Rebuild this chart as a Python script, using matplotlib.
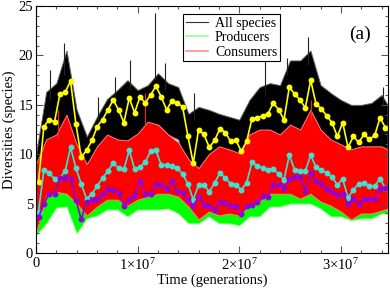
import numpy as np
import matplotlib
matplotlib.use("Agg")
import matplotlib.pyplot as plt
from matplotlib.lines import Line2D
from matplotlib.ticker import MultipleLocator, FuncFormatter

plt.rcParams["font.family"] = ["Liberation Serif", "DejaVu Serif"]
plt.rcParams["mathtext.fontset"] = "custom"
plt.rcParams["mathtext.rm"] = "Liberation Serif"
plt.rcParams["mathtext.it"] = "Liberation Serif:italic"

# sampling times (generations)
mark_t = 2.5e5 + np.arange(66) * 5.25e5
env_t = np.append(np.arange(35) * 1e6, 3.46e7)

# window averages
mean_all = [7.2, 12.8, 13.5, 13.3, 16.1, 16.3, 17.4, 13.1, 9.7, 10.4,
            11.4, 12.8, 13.5, 14.5, 15.5, 14.5, 13.2, 15.7, 14.2, 15.8,
            15.2, 16.0, 16.9, 15.8, 14.5, 15.4, 15.2, 14.8, 11.8, 9.1,
            12.5, 12.0, 10.7, 11.4, 12.6, 12.2, 11.3, 11.4, 10.3, 11.3,
            13.6, 13.7, 13.9, 14.1, 15.2, 14.5, 13.5, 16.8, 16.1, 15.5,
            14.7, 17.5, 15.1, 14.6, 13.9, 13.2, 11.8, 13.2, 10.7, 11.8,
            11.2, 12.0, 11.5, 11.9, 13.7, 12.7]
mean_cons = [4.2, 8.4, 8.1, 7.5, 7.6, 8.3, 10.7, 8.6, 7.0, 5.5,
             6.0, 6.8, 7.6, 8.3, 9.1, 8.6, 8.5, 10.4, 8.5, 8.7,
             9.2, 10.3, 10.4, 8.9, 8.9, 8.8, 8.6, 8.0, 7.0, 5.4,
             6.9, 6.9, 6.2, 7.1, 8.1, 7.6, 7.0, 6.9, 6.4, 7.1,
             9.2, 8.8, 8.6, 8.4, 8.5, 8.0, 7.4, 9.9, 8.4, 8.3,
             8.3, 9.9, 8.7, 8.4, 8.1, 7.7, 6.9, 7.5, 5.6, 6.4,
             7.0, 7.1, 6.8, 6.8, 7.5, 6.6]
mean_prod = [3.6, 5.0, 6.0, 6.0, 7.6, 7.6, 7.5, 5.4, 3.4, 5.2,
             5.4, 5.5, 6.0, 6.5, 6.4, 6.1, 4.8, 5.5, 5.9, 7.3,
             6.0, 6.0, 7.0, 6.9, 6.5, 7.3, 6.3, 6.1, 5.4, 4.8,
             5.7, 4.9, 4.8, 4.4, 5.2, 5.1, 4.8, 4.8, 3.9, 4.8,
             4.9, 5.2, 5.8, 5.7, 6.9, 6.9, 6.6, 7.5, 7.7, 7.7,
             6.3, 8.1, 7.3, 7.0, 6.5, 6.2, 5.9, 6.0, 5.0, 5.5,
             5.0, 5.5, 5.5, 5.5, 6.5, 6.6]

# ranges of the raw (noisy) series
all_lo = [2.0, 9.5, 11.0, 13.0, 9.0, 7.5, 9.0, 11.0, 11.5, 11.0,
          12.0, 12.5, 13.0, 12.0, 11.5, 7.0, 8.5, 7.5, 9.0, 8.0,
          7.5, 10.0, 10.5, 11.5, 10.5, 13.0, 12.0, 13.5, 11.0, 10.0,
          9.5, 8.0, 8.5, 8.5, 9.5, 9.5]
all_hi = [10.0, 16.3, 17.2, 20.5, 14.5, 11.8, 13.8, 15.6, 16.5, 17.5,
          16.5, 17.0, 18.2, 17.2, 16.8, 14.1, 14.8, 14.5, 14.1, 13.8,
          13.5, 15.5, 16.8, 17.2, 17.0, 19.5, 19.5, 20.5, 17.0, 16.2,
          15.5, 15.0, 15.0, 15.2, 16.0, 15.0]
cons_lo = [2.0, 5.8, 6.2, 6.0, 5.0, 3.8, 4.7, 5.4, 5.4, 4.8,
           5.4, 5.7, 6.0, 6.0, 5.7, 4.7, 3.4, 4.2, 3.8, 4.0,
           3.8, 4.8, 5.2, 6.0, 6.0, 6.0, 5.5, 6.0, 5.2, 4.8,
           4.2, 3.4, 4.0, 4.0, 4.3, 4.5]
cons_hi = [9.0, 11.5, 12.0, 14.0, 11.0, 9.0, 10.8, 12.0, 11.5, 11.4,
           12.1, 13.3, 13.0, 12.0, 11.2, 9.5, 8.6, 10.0, 10.8, 10.5,
           10.1, 12.0, 12.5, 12.5, 12.0, 13.0, 12.5, 14.5, 12.5, 11.5,
           11.0, 10.5, 10.8, 10.8, 10.8, 10.5]
prod_lo = [1.8, 3.0, 4.6, 4.7, 2.0, 3.5, 3.8, 4.4, 4.4, 3.7,
           4.4, 4.4, 4.4, 4.5, 4.0, 3.0, 3.0, 3.7, 3.0, 3.0,
           2.8, 3.7, 3.7, 4.7, 4.7, 5.0, 5.0, 5.0, 4.5, 3.7,
           3.7, 3.3, 3.5, 3.5, 4.0, 4.0]
prod_hi = [4.5, 7.5, 9.0, 9.5, 7.0, 7.0, 7.5, 8.5, 8.3, 7.3,
           9.0, 8.0, 9.0, 9.0, 8.2, 7.3, 7.0, 6.8, 7.0, 6.8,
           6.2, 7.0, 7.8, 9.0, 8.8, 9.8, 9.8, 10.2, 9.0, 8.3,
           8.0, 7.5, 7.2, 7.5, 8.5, 8.5]

# isolated spikes
all_spike_t = [1.38e6, 2.75e6, 6.1e6, 7.77e6, 9.24e6, 1.17e7, 1.27e7,
               1.55e7, 2.25e7, 2.47e7, 2.68e7, 3.41e7]
all_spike_lo = [15.5, 18.0, 13.0, 15.5, 16.5, 17.5, 16.5, 13.5, 16.0,
                18.0, 19.0, 15.0]
all_spike_hi = [18.5, 21.3, 15.8, 17.8, 19.5, 24.3, 19.2, 16.2, 19.4,
                19.7, 21.9, 16.8]
cons_spike_t = [2.16e6, 1.07e7, 2.71e7]
cons_spike_lo = [11.5, 13.0, 13.5]
cons_spike_hi = [14.5, 16.2, 15.5]

fig = plt.figure(figsize=(3.9, 2.91), dpi=100)
ax = fig.add_axes([0.0923, 0.1306, 0.9017, 0.8484])

ax.fill_between(env_t, all_lo, all_hi, facecolor="black", edgecolor="#666666", lw=0.7)
ax.vlines(all_spike_t, all_spike_lo, all_spike_hi, color="#222222", lw=0.8)
ax.fill_between(env_t, prod_lo, prod_hi, facecolor="#00ff00", edgecolor="#90ff90", lw=0.7)
ax.fill_between(env_t, cons_lo, cons_hi, facecolor="#ff0000", edgecolor="#ff8080", lw=0.7)
ax.vlines(cons_spike_t, cons_spike_lo, cons_spike_hi, color="#ff2020", lw=0.8)

ax.plot(mark_t, mean_all, color="#ffff00", lw=1.2, marker="o", ms=3.2, mec="#ffff00")
ax.plot(mark_t, mean_cons, color="#40e0d0", lw=1.2, marker="o", ms=3.2, mec="#40e0d0")
ax.plot(mark_t, mean_prod, color="#9400d3", lw=1.2, marker="o", ms=3.2, mec="#9400d3")

ax.set_xlim(0, 3.46e7)
ax.set_ylim(0, 25)
ax.xaxis.set_major_locator(MultipleLocator(1e7))
ax.xaxis.set_minor_locator(MultipleLocator(2e6))
ax.yaxis.set_major_locator(MultipleLocator(5))
ax.yaxis.set_minor_locator(MultipleLocator(1))


def sci_label(v, pos):
    if v == 0:
        return "0"
    return r"%d$\times$10$^{7}$" % round(v / 1e7)


ax.xaxis.set_major_formatter(FuncFormatter(sci_label))
ax.tick_params(which="both", direction="in", top=True, right=True,
               labelsize=10.5, width=0.8, color="#555555")
ax.tick_params(which="major", length=5)
ax.tick_params(which="minor", length=2.5)
ax.tick_params(axis="x", pad=3)
ax.tick_params(axis="y", pad=2)
for spine in ax.spines.values():
    spine.set_linewidth(0.8)

ax.set_xlabel("Time (generations)", fontsize=10.5, labelpad=0)
ax.set_ylabel("Diversities (species)", fontsize=10.5, labelpad=2)

handles = [
    Line2D([], [], color="#333333", lw=0.8),
    Line2D([], [], color="#90ff90", lw=1.2),
    Line2D([], [], color="#ff9090", lw=1.2),
]
leg = ax.legend(handles, ["All species", "Producers", "Consumers"],
                loc="upper left", bbox_to_anchor=(0.418, 0.968), fontsize=10,
                frameon=True, fancybox=False, framealpha=1, edgecolor="black",
                handlelength=1.6, handletextpad=0.5, borderpad=0.2,
                labelspacing=0.1, borderaxespad=0)
leg.get_frame().set_linewidth(0.8)

ax.text(0.92, 0.885, "(a)", transform=ax.transAxes, fontsize=14,
        ha="center", va="center")

fig.savefig("out.png", dpi=100)
